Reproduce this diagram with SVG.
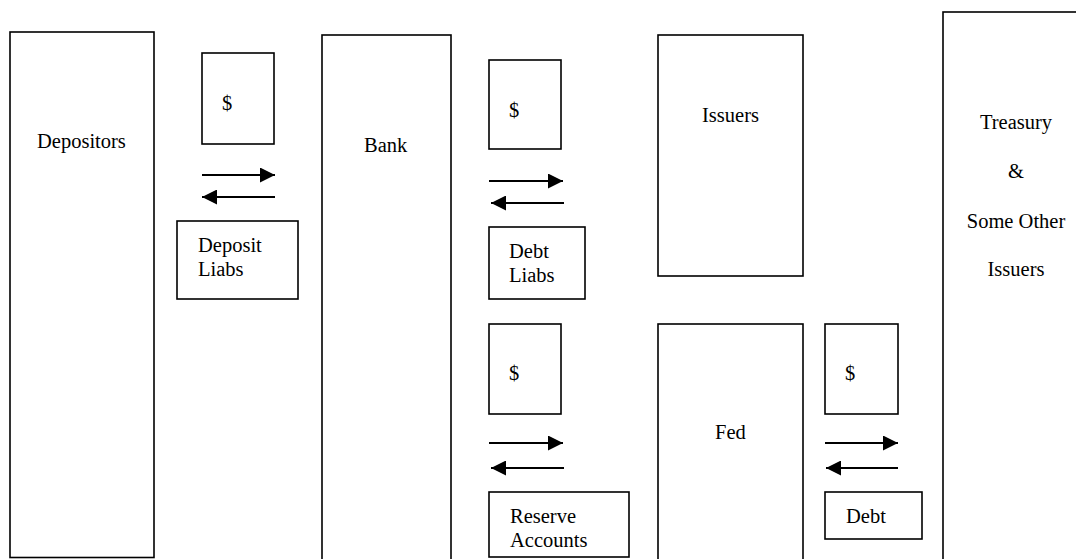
<svg xmlns="http://www.w3.org/2000/svg" width="1076" height="559" viewBox="0 0 1076 559">
<style>
.b{fill:#fff;stroke:#000;stroke-width:1.6}
.t{font-family:"Liberation Serif",serif;font-size:20.5px;fill:#000}
.tc{font-family:"Liberation Serif",serif;font-size:20.5px;fill:#000;text-anchor:middle}
.a{stroke:#000;stroke-width:2;fill:none}
</style>
<defs>
<marker id="ah" markerWidth="15" markerHeight="15" viewBox="0 0 15 15" refX="15" refY="7.5" orient="auto" markerUnits="userSpaceOnUse">
<path d="M0,0 L15,7.5 L0,15 Z" fill="#000"/>
</marker>
</defs>
<rect width="1076" height="559" fill="#fff"/>
<g id="depositors"><rect class="b" x="10" y="32" width="144" height="525.5"/><text class="t" x="37" y="148">Depositors</text></g>
<g id="bank"><rect class="b" x="322" y="35" width="129" height="530"/><text class="t" x="364" y="152">Bank</text></g>
<g id="issuers"><rect class="b" x="658" y="35" width="145" height="241"/><text class="t" x="702" y="122">Issuers</text></g>
<g id="treasury"><rect class="b" x="943" y="12" width="140" height="560"/>
<text class="tc" x="1016" y="129">Treasury</text><text class="tc" x="1016" y="178">&amp;</text><text class="tc" x="1016" y="228">Some Other</text><text class="tc" x="1016" y="276">Issuers</text></g>
<g id="fed"><rect class="b" x="658" y="324" width="145" height="245"/><text class="t" x="715" y="439">Fed</text></g>
<g id="dollar1"><rect class="b" x="202" y="53" width="72" height="91"/><text class="t" x="222" y="110">$</text></g>
<g id="depositliabs"><rect class="b" x="177" y="221" width="121" height="78"/><text class="t" x="198" y="252">Deposit</text><text class="t" x="198" y="276">Liabs</text></g>
<g id="dollar2"><rect class="b" x="489" y="60" width="72" height="89"/><text class="t" x="509" y="117">$</text></g>
<g id="debtliabs"><rect class="b" x="489" y="227" width="96" height="72"/><text class="t" x="509" y="258">Debt</text><text class="t" x="509" y="282">Liabs</text></g>
<g id="dollar3"><rect class="b" x="489" y="324" width="72" height="90"/><text class="t" x="509" y="380">$</text></g>
<g id="reserve"><rect class="b" x="489" y="492" width="140" height="65"/><text class="t" x="510" y="523">Reserve</text><text class="t" x="510" y="547">Accounts</text></g>
<g id="dollar4"><rect class="b" x="825" y="324" width="73" height="90"/><text class="t" x="845" y="380">$</text></g>
<g id="debt"><rect class="b" x="825" y="492" width="97" height="47"/><text class="t" x="846" y="523">Debt</text></g>
<g id="connectors">
<line class="a" x1="202" y1="175" x2="275" y2="175" marker-end="url(#ah)"/>
<line class="a" x1="275" y1="197" x2="202" y2="197" marker-end="url(#ah)"/>
<line class="a" x1="489" y1="181" x2="563" y2="181" marker-end="url(#ah)"/>
<line class="a" x1="564" y1="203" x2="491" y2="203" marker-end="url(#ah)"/>
<line class="a" x1="489" y1="443" x2="563" y2="443" marker-end="url(#ah)"/>
<line class="a" x1="564" y1="468" x2="491" y2="468" marker-end="url(#ah)"/>
<line class="a" x1="825" y1="443" x2="898" y2="443" marker-end="url(#ah)"/>
<line class="a" x1="898" y1="468" x2="826" y2="468" marker-end="url(#ah)"/>
</g>
</svg>
